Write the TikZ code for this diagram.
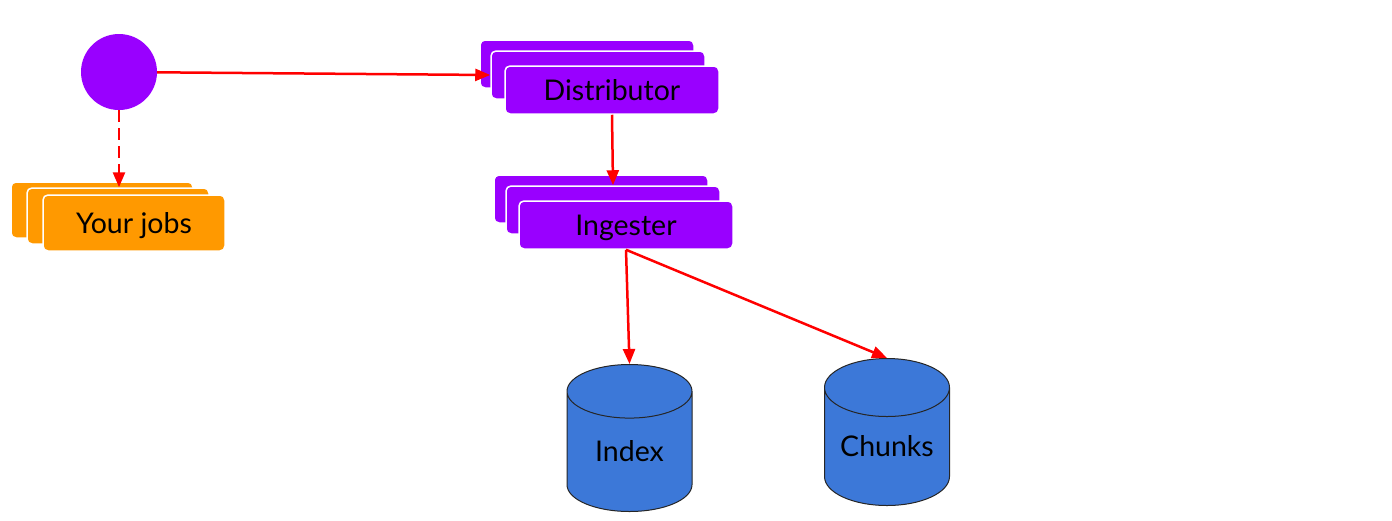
\documentclass[tikz,border=0pt]{standalone}
\usepackage{fontspec}
\setmainfont{Lato}
\usetikzlibrary{shapes.geometric, arrows.meta}

\definecolor{jobpurple}{HTML}{9900FF}
\definecolor{joborange}{HTML}{FF9900}
\definecolor{storeblue}{HTML}{3C78D8}

\begin{document}
\begin{tikzpicture}[x=1pt, y=-1pt,
        source/.style={circle, fill=jobpurple, minimum size=76pt, inner sep=0pt},
        service/.style={rectangle, draw=white, line width=1.5pt, fill=jobpurple, rounded corners=5pt, minimum width=214pt, minimum height=48pt, inner sep=0pt, text depth=0pt, font=\fontsize{28.5}{32}\selectfont},
        jobs/.style={service, fill=joborange, minimum width=182pt, minimum height=56pt},
        store/.style={cylinder, shape border rotate=90, draw=black!85, line width=1pt, fill=storeblue, aspect=0.78, minimum width=125pt, minimum height=147pt, inner sep=0pt, text height=20pt, text depth=0pt, anchor=top, font=\fontsize{28.5}{32}\selectfont},
        arrow/.style={-{Triangle[length=15pt, width=12pt]}, line width=2.5pt, red}
    ]
    \useasboundingbox (0,0) rectangle (1392,520);

    % --- 1. SOURCE AND JOBS ---
    \node [source] (src) at (119,72) {};
    \node [jobs] (jobs3) at (102,210) {};
    \node [jobs] (jobs2) at (118,216) {};
    \node [jobs] (jobs1) at (134,223) {Your jobs};

    % --- 2. DISTRIBUTOR ---
    \node [service] (dist3) at (587,64) {};
    \node [service] (dist2) at (598,75) {};
    \node [service] (dist1) at (612,90) {Distributor};

    % --- 3. INGESTER ---
    \node [service] (ing3) at (601,199) {};
    \node [service] (ing2) at (613,210) {};
    \node [service] (ing1) at (626,225) {Ingester};

    % --- 4. STORAGE ---
    \node [store] (index) at (629.5,364) {Index};
    \node [store, aspect=0.62] (chunks) at (887,358) {Chunks};

    % Connectors
    \draw [arrow] (src) -- (dist2.west);
    \draw [arrow, dash pattern=on 12pt off 6pt] (src.south) -- (src.south |- jobs2.north);
    \draw [arrow] (dist1.south) -- (ing2.north);
    \draw [arrow] (ing1.south) -- (index.top);
    \draw [arrow] (ing1.south) -- (chunks.top);

\end{tikzpicture}
\end{document}
